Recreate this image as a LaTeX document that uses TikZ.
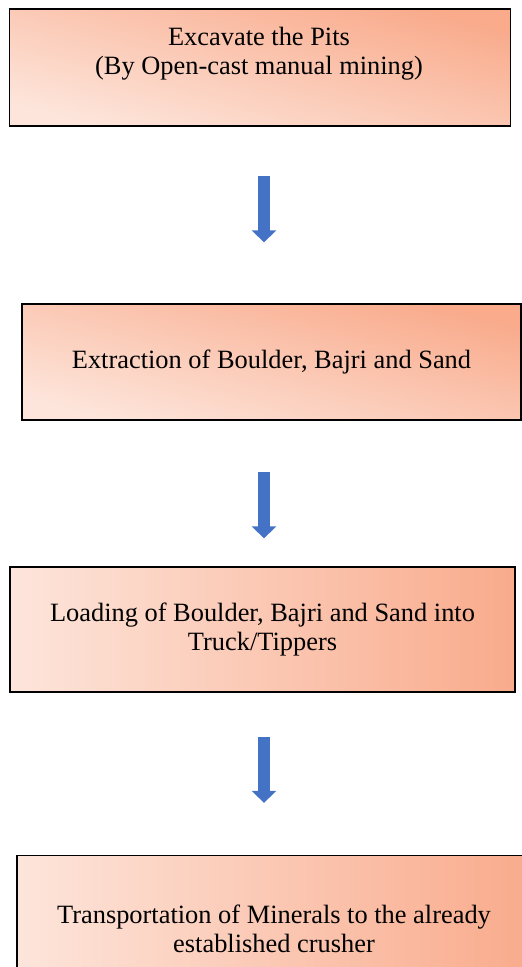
\documentclass[tikz,border=0pt]{standalone}
\usepackage{fontspec}
\setmainfont{Liberation Serif}
\usepackage{xcolor}
\usepackage{tikz}
\usetikzlibrary{arrows.meta,positioning,calc}
\definecolor{peachlight}{HTML}{FDE5DB}
\definecolor{peachdark}{HTML}{F9AB8C}
\definecolor{flowblue}{HTML}{4472C4}

\begin{document}
\begin{tikzpicture}[x=1pt,y=-1pt,
    font=\fontsize{26.4}{29}\selectfont,
    stepbox/.style={draw=black,line width=1.3pt,align=center,inner sep=0pt},
    diagfill/.style={top color=peachdark,bottom color=peachlight,shading angle=-15},
    sidefill/.style={left color=peachlight,right color=peachdark},
    flowarrow/.style={draw=flowblue,line width=12pt,-{Triangle[width=24pt,length=12pt]}}
]
\useasboundingbox (0,0) rectangle (522,967);

\node[stepbox,diagfill,minimum width=501pt,minimum height=117pt] (pits) at (260,67.5) {};
\node[align=center] (pitstext) at (259,54) {Excavate the Pits\\(By Open-cast manual mining)};
\node[stepbox,diagfill,minimum width=499pt,minimum height=116pt] (extract) at (271.5,362) {Extraction of Boulder, Bajri and Sand};
\node[stepbox,sidefill,minimum width=505pt,minimum height=125pt] (load) at (262.5,629.5) {Loading of Boulder, Bajri and Sand into\\Truck/Tippers};
\node[stepbox,sidefill,minimum width=514pt,minimum height=147pt] (transport) at (274,929) {Transportation of Minerals to the already\\established crusher};

\coordinate (ax) at (264,0);
\draw[flowarrow,shorten <=49pt,shorten >=61pt] (pits.south -| ax) -- (extract.north -| ax);
\draw[flowarrow,shorten <=51pt,shorten >=28pt] (extract.south -| ax) -- (load.north -| ax);
\draw[flowarrow,shorten <=44pt,shorten >=52pt] (load.south -| ax) -- (transport.north -| ax);
\end{tikzpicture}
\end{document}
